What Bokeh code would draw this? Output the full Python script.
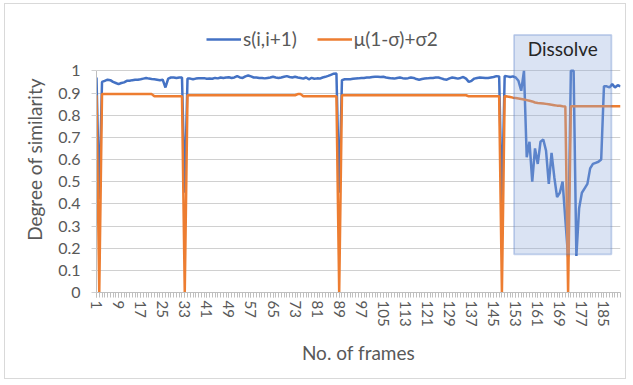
from bokeh.plotting import figure
from bokeh.models import (Range1d, FixedTicker, BoxAnnotation, Label, Legend,
                          LegendItem, CustomJSTickFormatter, ColumnDataSource)
from bokeh.embed import file_html
from bokeh.resources import INLINE

# ---------------- data ----------------
frames = list(range(1, 192))

similarity = [
    0.970, 0.420, 0.950, 0.955, 0.960, 0.958, 0.950, 0.945, 0.940, 0.945,
    0.948, 0.955, 0.955, 0.958, 0.960, 0.960, 0.962, 0.965, 0.968, 0.965,
    0.963, 0.962, 0.960, 0.958, 0.960, 0.925, 0.965, 0.970, 0.970, 0.968,
    0.970, 0.970, 0.450, 0.965, 0.965, 0.962, 0.965, 0.967, 0.966, 0.967,
    0.964, 0.965, 0.964, 0.968, 0.966, 0.970, 0.968, 0.970, 0.971, 0.968,
    0.970, 0.976, 0.970, 0.968, 0.975, 0.979, 0.975, 0.970, 0.970, 0.968,
    0.968, 0.966, 0.968, 0.970, 0.973, 0.970, 0.968, 0.970, 0.973, 0.976,
    0.972, 0.970, 0.973, 0.970, 0.968, 0.965, 0.970, 0.962, 0.968, 0.964,
    0.966, 0.965, 0.970, 0.973, 0.977, 0.982, 0.987, 0.988, 0.450, 0.958,
    0.962, 0.962, 0.962, 0.964, 0.965, 0.966, 0.968, 0.968, 0.970, 0.970,
    0.972, 0.973, 0.973, 0.972, 0.973, 0.970, 0.968, 0.966, 0.965, 0.968,
    0.970, 0.967, 0.965, 0.967, 0.970, 0.968, 0.963, 0.960, 0.963, 0.965,
    0.966, 0.968, 0.968, 0.970, 0.970, 0.966, 0.962, 0.960, 0.966, 0.970,
    0.968, 0.965, 0.968, 0.972, 0.965, 0.950, 0.955, 0.965, 0.968, 0.970,
    0.969, 0.968, 0.968, 0.970, 0.972, 0.976, 0.975, 0.400, 0.977, 0.975,
    0.972, 0.975, 0.970, 0.955, 0.910, 1.000, 0.610, 0.680, 0.500, 0.650,
    0.580, 0.680, 0.690, 0.640, 0.490, 0.630, 0.520, 0.430, 0.450, 0.500,
    0.330, 0.160, 1.000, 1.000, 0.165, 0.380, 0.450, 0.470, 0.490, 0.560,
    0.580, 0.585, 0.590, 0.600, 0.930, 0.930, 0.925, 0.940, 0.925, 0.935,
    0.930,
]

threshold = [
    0.890, 0.000, 0.895, 0.895, 0.895, 0.895, 0.895, 0.895, 0.895, 0.895,
    0.895, 0.895, 0.895, 0.895, 0.895, 0.895, 0.895, 0.895, 0.895, 0.895,
    0.895, 0.885, 0.885, 0.885, 0.885, 0.885, 0.885, 0.885, 0.885, 0.885,
    0.885, 0.885, 0.000, 0.890, 0.890, 0.890, 0.890, 0.890, 0.890, 0.890,
    0.890, 0.890, 0.890, 0.890, 0.890, 0.890, 0.890, 0.890, 0.890, 0.890,
    0.890, 0.890, 0.890, 0.890, 0.890, 0.890, 0.890, 0.890, 0.890, 0.890,
    0.890, 0.890, 0.890, 0.890, 0.890, 0.890, 0.890, 0.890, 0.890, 0.890,
    0.890, 0.890, 0.890, 0.895, 0.895, 0.885, 0.885, 0.885, 0.885, 0.885,
    0.885, 0.885, 0.885, 0.885, 0.885, 0.885, 0.885, 0.885, 0.000, 0.890,
    0.890, 0.890, 0.890, 0.890, 0.890, 0.890, 0.890, 0.890, 0.890, 0.890,
    0.890, 0.890, 0.890, 0.890, 0.890, 0.890, 0.890, 0.890, 0.890, 0.890,
    0.890, 0.890, 0.890, 0.890, 0.890, 0.890, 0.890, 0.890, 0.890, 0.890,
    0.890, 0.890, 0.890, 0.890, 0.890, 0.890, 0.890, 0.890, 0.890, 0.890,
    0.890, 0.890, 0.890, 0.890, 0.890, 0.885, 0.885, 0.885, 0.885, 0.885,
    0.885, 0.885, 0.885, 0.885, 0.885, 0.885, 0.885, 0.000, 0.886, 0.884,
    0.882, 0.879, 0.877, 0.875, 0.873, 0.871, 0.868, 0.865, 0.862, 0.857,
    0.855, 0.854, 0.853, 0.851, 0.849, 0.847, 0.845, 0.843, 0.842, 0.840,
    0.839, 0.000, 0.840, 0.840, 0.840, 0.840, 0.840, 0.840, 0.840, 0.840,
    0.840, 0.840, 0.840, 0.840, 0.840, 0.840, 0.840, 0.840, 0.840, 0.840,
    0.840,
]

x_ticks = [1, 9, 17, 25, 33, 41, 49, 57, 65, 73, 81, 89, 97, 105, 113, 121,
           129, 137, 145, 153, 161, 169, 177, 185]
y_ticks = [0, 0.1, 0.2, 0.3, 0.4, 0.5, 0.6, 0.7, 0.8, 0.9, 1]

series_names = ["s(i,i+1)", "\u03bc(1-\u03c3)+\u03c32"]
x_title = "No. of frames"
y_title = "Degree of similarity"

dissolve_label = "Dissolve"
dissolve_start = 152.4
dissolve_end = 187.7
dissolve_floor = 0.172
dissolve_top = 1.162

# ---------------- styling ----------------
FONT = "Lato"
TXT = "#595959"
BLUE = "#4472c4"
ORANGE = "#ed7d31"
GRID = "#d0d0d0"
AXIS = "#bfbfbf"

src = ColumnDataSource(dict(frame=frames, sim=similarity, thr=threshold))

p = figure(width=622, height=376, output_backend="svg", toolbar_location=None,
           x_range=Range1d(1, 191), y_range=Range1d(0, 1.2),
           min_border_left=91, min_border_right=7, min_border_top=22,
           min_border_bottom=88)
p.styles = {"margin-left": "4px", "margin-top": "3px",
            "border": "1px solid #d9d9d9"}
p.outline_line_color = None
p.background_fill_color = "white"
p.border_fill_color = "white"

r1 = p.line("frame", "sim", source=src, line_color=BLUE, line_width=2.5)
r2 = p.line("frame", "thr", source=src, line_color=ORANGE, line_width=2.5)

# axes
p.xgrid.visible = False
p.ygrid.grid_line_color = GRID
p.ygrid.grid_line_width = 1

xa = p.xaxis[0]
xa.ticker = FixedTicker(ticks=x_ticks, minor_ticks=frames)
xa.major_label_orientation = "vertical"
xa.axis_line_color = AXIS
xa.major_tick_line_color = AXIS
xa.minor_tick_line_color = AXIS
xa.major_tick_out = 5
xa.major_tick_in = 0
xa.minor_tick_out = 5
xa.minor_tick_in = 0
xa.major_label_text_font = FONT
xa.major_label_text_font_size = "15px"
xa.major_label_text_color = TXT
xa.major_label_standoff = 3
xa.axis_label = x_title
xa.axis_label_text_font = FONT
xa.axis_label_text_font_size = "19px"
xa.axis_label_text_font_style = "normal"
xa.axis_label_text_color = TXT
xa.axis_label_standoff = 11

ya = p.yaxis[0]
ya.ticker = FixedTicker(ticks=y_ticks)
ya.formatter = CustomJSTickFormatter(code="return String(Number(tick.toFixed(1)));")
ya.bounds = (0, 1)
ya.axis_line_color = AXIS
ya.major_tick_line_color = GRID
ya.major_tick_out = 5
ya.major_tick_in = 0
ya.minor_tick_line_color = None
ya.major_label_text_font = FONT
ya.major_label_text_font_size = "16px"
ya.major_label_text_color = TXT
ya.major_label_standoff = 11
ya.axis_label = y_title
ya.axis_label_text_font = FONT
ya.axis_label_text_font_size = "19px"
ya.axis_label_text_font_style = "normal"
ya.axis_label_text_color = TXT
ya.axis_label_standoff = 9

# dissolve box
box = BoxAnnotation(left=dissolve_start, right=dissolve_end, bottom=dissolve_floor,
                    top=dissolve_top,
                    fill_color="#8faadc", fill_alpha=0.33,
                    line_color=BLUE, line_width=1.75)
p.add_layout(box)
p.add_layout(Label(x=(dissolve_start + dissolve_end) / 2, y=1.103, text=dissolve_label,
                   text_align="center", text_baseline="middle",
                   text_font=FONT, text_font_size="19px", text_color="#262626"))

legend = Legend(items=[LegendItem(label=series_names[0], renderers=[r1]),
                       LegendItem(label=series_names[1], renderers=[r2])],
                orientation="horizontal", location=(110, 242),
                padding=0, margin=0, spacing=20, label_standoff=2,
                glyph_width=35, glyph_height=20, label_height=20,
                label_text_font=FONT, label_text_font_size="19px",
                label_text_color=TXT, border_line_color=None,
                background_fill_alpha=0)
p.add_layout(legend)

open("out.html", "w").write(file_html(p, INLINE))
